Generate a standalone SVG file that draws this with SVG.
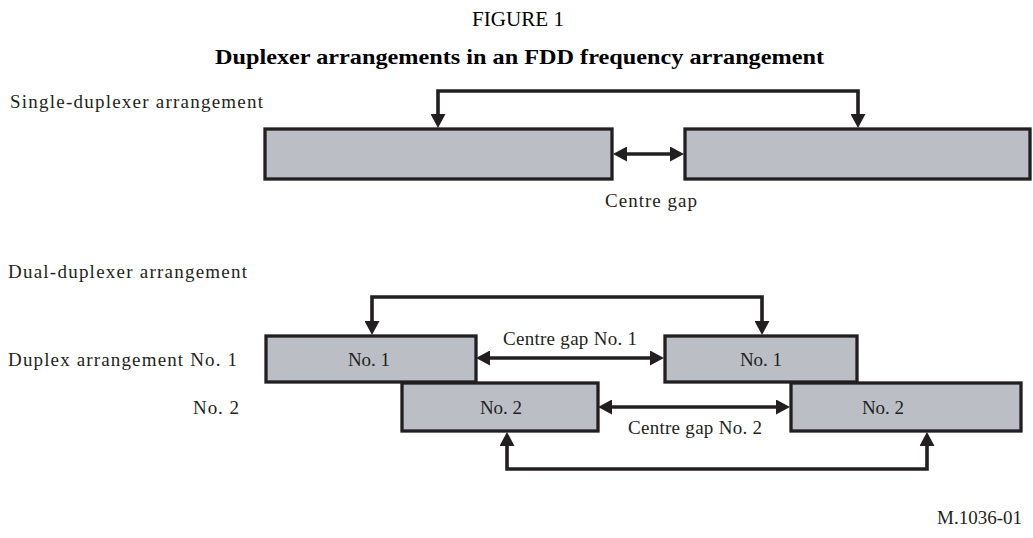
<svg xmlns="http://www.w3.org/2000/svg" width="1033" height="538" viewBox="0 0 1033 538">
<style>
text{font-family:"Liberation Serif","Times New Roman",serif;fill:#231f20}
.lbl{font-size:19px}
.ttl{font-size:22px;fill:#000}
.bold{font-weight:bold}
.box{fill:#bbbec5;stroke:#231f20;stroke-width:3.3}
.wire{fill:none;stroke:#231f20;stroke-width:3.6}
</style>
<defs>
<marker id="ah" viewBox="0 0 14 15" refX="1" refY="7.5" markerWidth="14" markerHeight="15" markerUnits="userSpaceOnUse" orient="auto-start-reverse">
<path d="M0,0 L14,7.5 L0,15 z" fill="#231f20"/>
</marker>
</defs>
<text class="ttl" x="518" y="26" text-anchor="middle" textLength="92" lengthAdjust="spacingAndGlyphs">FIGURE 1</text>
<text class="ttl bold" x="215" y="64" textLength="609" lengthAdjust="spacingAndGlyphs">Duplexer arrangements in an FDD frequency arrangement</text>
<text class="lbl" x="10" y="108" textLength="253" lengthAdjust="spacing">Single-duplexer arrangement</text>
<text class="lbl" x="8" y="278" textLength="239" lengthAdjust="spacing">Dual-duplexer arrangement</text>
<text class="lbl" x="8" y="366" textLength="229" lengthAdjust="spacing">Duplex arrangement No. 1</text>
<text class="lbl" x="193" y="414" textLength="46" lengthAdjust="spacing">No. 2</text>
<text class="lbl" x="605" y="207" textLength="92" lengthAdjust="spacing">Centre gap</text>
<text class="lbl" x="503" y="345" textLength="134" lengthAdjust="spacing">Centre gap No. 1</text>
<text class="lbl" x="628" y="434" textLength="134" lengthAdjust="spacing">Centre gap No. 2</text>
<text class="lbl" x="1022" y="524" text-anchor="end">M.1036-01</text>
<g id="single-left"><rect class="box" x="265" y="129" width="347" height="50"/></g>
<g id="single-right"><rect class="box" x="685" y="129" width="345" height="50"/></g>
<g id="dual-left-1"><rect class="box" x="266" y="336" width="210" height="46"/><text class="lbl" x="369" y="366" text-anchor="middle">No. 1</text></g>
<g id="dual-left-2"><rect class="box" x="402" y="383" width="196" height="48"/><text class="lbl" x="501" y="414" text-anchor="middle">No. 2</text></g>
<g id="dual-right-1"><rect class="box" x="665" y="336" width="192" height="46"/><text class="lbl" x="761" y="366" text-anchor="middle">No. 1</text></g>
<g id="dual-right-2"><rect class="box" x="791" y="383" width="230" height="48"/><text class="lbl" x="883" y="414" text-anchor="middle">No. 2</text></g>
<g id="connectors">
<path class="wire" d="M438,115 V91 H858 V115" marker-start="url(#ah)" marker-end="url(#ah)"/>
<path class="wire" d="M626,154 H671" marker-start="url(#ah)" marker-end="url(#ah)"/>
<path class="wire" d="M372,322 V297 H762 V322" marker-start="url(#ah)" marker-end="url(#ah)"/>
<path class="wire" d="M489,358 H651" marker-start="url(#ah)" marker-end="url(#ah)"/>
<path class="wire" d="M611,407 H777" marker-start="url(#ah)" marker-end="url(#ah)"/>
<path class="wire" d="M507,445 V469 H927 V445" marker-start="url(#ah)" marker-end="url(#ah)"/>
</g>
</svg>
